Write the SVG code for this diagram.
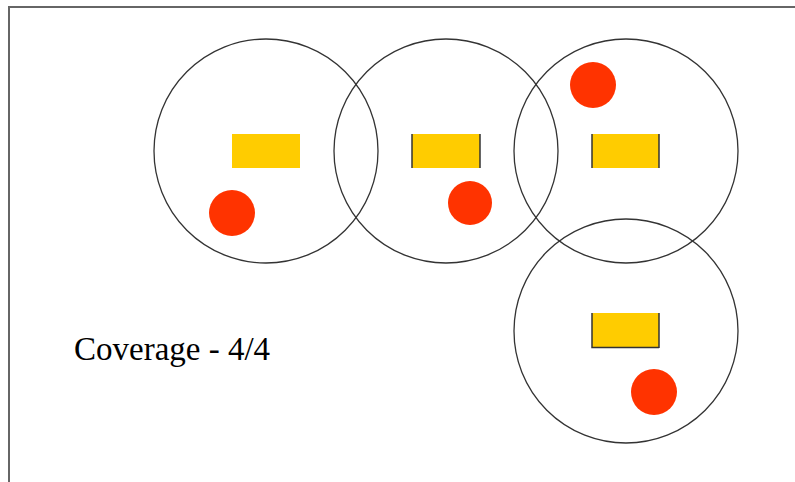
<svg xmlns="http://www.w3.org/2000/svg" width="795" height="482" viewBox="0 0 795 482">
<style>
.range{fill:none;stroke:#333;stroke-width:1.3}
.sensor{fill:#ffcc00}
.edge{stroke:#333;stroke-width:1.5}
.target{fill:#ff3300}
.frame{stroke:#666;stroke-width:2;fill:none}
text{font-family:"Liberation Serif","Times New Roman",serif;font-size:33px;fill:#000}
</style>
<rect width="795" height="482" fill="#fff"/>
<path class="frame" d="M9 482 V7 H795"/>
<g id="node1">
<circle class="range" cx="266" cy="151" r="112"/>
<rect class="sensor" x="232" y="134" width="68" height="34"/>
<circle class="target" cx="232" cy="213" r="23"/>
</g>
<g id="node2">
<circle class="range" cx="446" cy="151" r="112"/>
<rect class="sensor" x="412" y="134" width="68" height="34"/>
<line class="edge" x1="412" y1="134" x2="412" y2="168"/>
<line class="edge" x1="480" y1="134" x2="480" y2="168"/>
<circle class="target" cx="470" cy="203" r="22"/>
</g>
<g id="node3">
<circle class="range" cx="626" cy="151" r="112"/>
<rect class="sensor" x="592" y="134" width="67" height="34"/>
<line class="edge" x1="592" y1="134" x2="592" y2="168"/>
<line class="edge" x1="659" y1="134" x2="659" y2="168"/>
<circle class="target" cx="593" cy="85" r="23"/>
</g>
<g id="node4">
<circle class="range" cx="626" cy="331" r="112"/>
<rect class="sensor" x="592" y="313" width="67" height="35"/>
<path class="edge" fill="none" d="M592 313 V347.5 H659"/>
<line class="edge" x1="659" y1="313" x2="659" y2="348"/>
<circle class="target" cx="654" cy="392" r="23"/>
</g>
<g id="connectors"/>
<text x="74" y="360">Coverage - 4/4</text>
</svg>
